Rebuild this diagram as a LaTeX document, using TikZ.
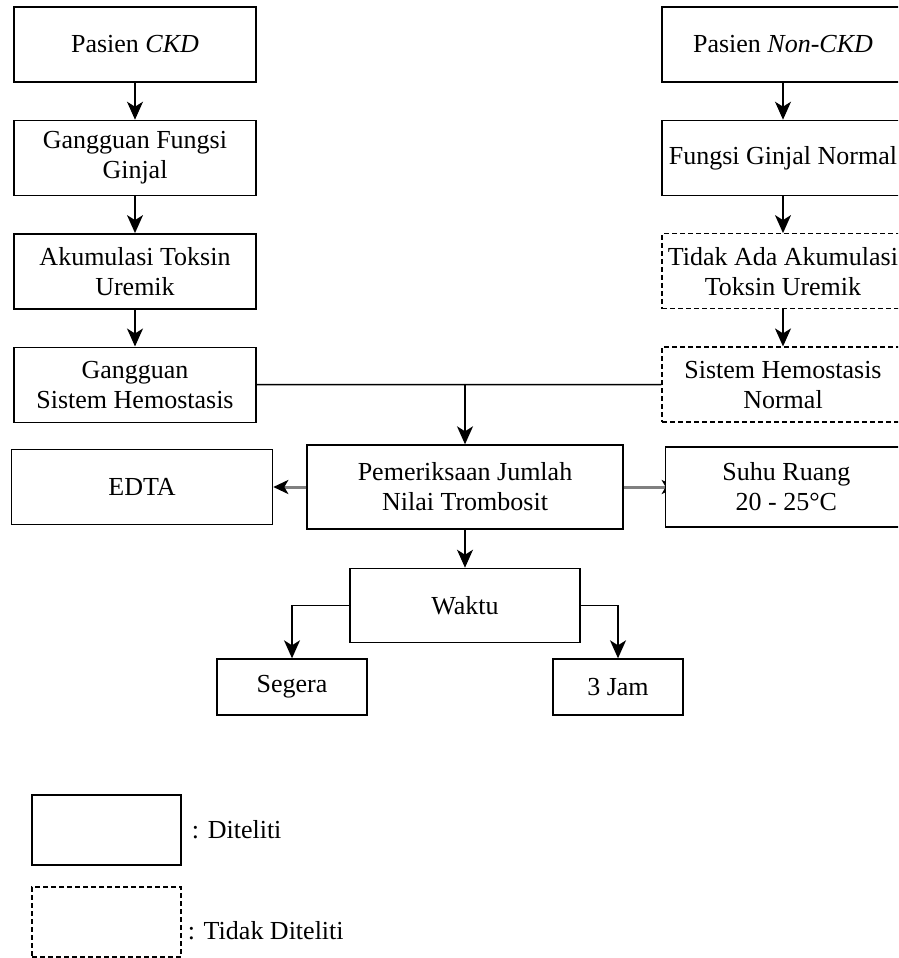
\documentclass[tikz,border=0pt]{standalone}
\usepackage{fontspec}
\setmainfont{Liberation Serif}
\usepackage{tikz}
\usetikzlibrary{arrows.meta, positioning, backgrounds}

\begin{document}
\begin{tikzpicture}[
    x=1pt, y=-1pt,
    node distance=37pt and 40pt,
    font=\fontsize{26}{30}\selectfont,
    % Style definitions
    box/.style={draw, line width=1.4pt, align=center, minimum width=242pt, minimum height=75pt, inner sep=2pt, fill=white},
    dashbox/.style={box, line width=1.3pt, dash pattern=on 5pt off 3pt},
    arrow/.style={-{Stealth[length=18pt, width=16pt, inset=5pt]}, line width=1.4pt},
    plainline/.style={line width=1.4pt},
    grayarrow/.style={-{Stealth[length=15pt, width=14pt, inset=4pt, color=black]}, line width=3pt, draw=gray}
]

    \useasboundingbox (0,0) rectangle (898,958);
    \clip (0,0) rectangle (898,958);

    % === LEFT COLUMN: CKD ===
    \node (ckd) [box] at (135,44.5) {Pasien \textit{CKD}};
    \node (ggf) [box, below=of ckd] {Gangguan Fungsi\\Ginjal};
    \node (akm) [box, below=of ggf] {Akumulasi Toksin\\Uremik};
    \node (ghs) [box, below=of akm] {Gangguan\\Sistem Hemostasis};

    \draw [arrow] (ckd) -- (ggf);
    \draw [arrow] (ggf) -- (akm);
    \draw [arrow] (akm) -- (ghs);

    % === RIGHT COLUMN: Non-CKD ===
    \node (nckd) [box] at (783,44.5) {Pasien \textit{Non-CKD}};
    \node (fgn) [box, below=of nckd] {Fungsi Ginjal Normal};
    \node (tak) [dashbox, below=of fgn] {Tidak Ada Akumulasi\\Toksin Uremik};
    \node (shn) [dashbox, below=of tak] {Sistem Hemostasis\\Normal};

    \draw [arrow] (nckd) -- (fgn);
    \draw [arrow] (fgn) -- (tak);
    \draw [arrow] (tak) -- (shn);

    % === CENTRE: Pemeriksaan ===
    \node (pem) [box, minimum width=316pt, minimum height=84pt] at (465,487) {Pemeriksaan Jumlah\\Nilai Trombosit};
    \node (edta) [box, minimum width=261pt, left=33pt of pem] {EDTA};
    \node (suhu) [box, minimum height=80pt, right=41pt of pem] {Suhu Ruang\\20 - 25°C};

    \coordinate (join) at (ghs -| pem);
    \draw [plainline] (ghs) -- (shn);
    \draw [arrow] (join) -- (pem);
    \draw [grayarrow] (pem.west) -- (pem.west -| edta.east);
    \begin{scope}[on background layer]
        \draw [grayarrow, shorten >=-12pt] (pem.east) -- (pem.east -| suhu.west);
    \end{scope}

    % === BOTTOM: Waktu ===
    \node (waktu) [box, minimum width=230pt, minimum height=74pt, below=38pt of pem] {Waktu};
    \node (segera) [box, minimum width=150pt, minimum height=56pt] at (292,687) {Segera};
    \node (jam) [box, minimum width=130pt, minimum height=56pt] at (618,687) {3 Jam};

    \draw [arrow] (pem) -- (waktu);
    \draw [arrow] (waktu.west) -| (segera);
    \draw [arrow] (waktu.east) -| (jam);

    % === LEGEND ===
    \node (lgsolid) [box, minimum width=149pt, minimum height=70pt] at (106.5,830) {};
    \node (lgsolidtxt) [right=10pt of lgsolid, inner sep=0pt] {: Diteliti};
    \node (lgdash) [dashbox, minimum width=149pt, minimum height=70pt] at (106.5,922) {};
    \node (lgdashtxt) [right=6pt of lgdash, inner sep=0pt, yshift=-9pt] {: Tidak Diteliti};

\end{tikzpicture}
\end{document}
